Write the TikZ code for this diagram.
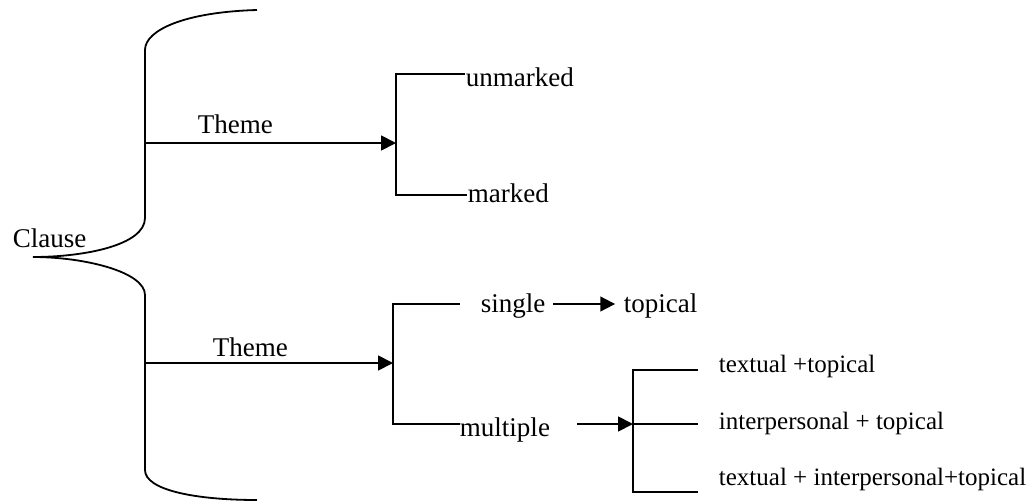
\documentclass[tikz,border=0pt]{standalone}
\usepackage{fontspec}
\setmainfont{Liberation Serif}
\usetikzlibrary{arrows.meta, positioning}

\tikzset{
    lbl/.style={anchor=base west, inner sep=0pt, font=\fontsize{12}{14}\selectfont},
    small lbl/.style={lbl, font=\fontsize{11.1}{13}\selectfont},
    arr/.style={-{Triangle[length=6.6pt, width=6.6pt]}},
}

\begin{document}
\begin{tikzpicture}[x=0.444pt, y=-0.444pt, line width=0.8pt]
    \useasboundingbox (0,0) rectangle (1036,503);

    % Clause and the big brace
    \node[lbl] (clause) at (12,247) {Clause};
    \coordinate (tip) at (33,257);
    \coordinate (b1) at (145,143);
    \coordinate (b2) at (145,363);
    \draw (257,10) .. controls (185,12) and (145,30) .. (145,50) -- (145,218)
        .. controls (145,245) and (85,257) .. (tip);
    \draw (tip) .. controls (85,257) and (145,272) .. (145,295) -- (145,470)
        .. controls (145,490) and (195,500) .. (257,500);

    % Theme (first branch)
    \coordinate (k1) at (396,143);
    \node[lbl] (theme1) at (197,133) {Theme};
    \draw[arr] (b1) -- (k1);
    \node[lbl] (unmarked) at (465,86) {unmarked};
    \node[lbl] (marked) at (467,202) {marked};
    \draw (unmarked.west |- 0,74) -| (k1) |- (marked.west |- 0,195);

    % Theme (second branch)
    \coordinate (k2) at (393,363);
    \node[lbl] (theme2) at (212,356) {Theme};
    \draw[arr] (b2) -- (k2);
    \node[lbl] (single) at (480,312) {single};
    \node[lbl] (topical) at (623,312) {topical};
    \node[lbl] (multiple) at (459,436) {multiple};
    \draw (460,304) -| (k2) |- (460,424);
    \draw[arr] (553,304) -- ([xshift=-3.5pt]topical.west |- 0,304);

    % multiple -> three kinds
    \coordinate (k3) at (633,424);
    \draw[arr] (577,424) -- (k3);
    \node[small lbl] (tt) at (718,372) {textual +topical};
    \node[small lbl] (it) at (718,429) {interpersonal + topical};
    \node[small lbl] (tit) at (718,485) {textual + interpersonal+topical};
    \draw (698,370) -| (k3) |- (698,492);
    \draw (k3) -- (698,424);
\end{tikzpicture}
\end{document}
